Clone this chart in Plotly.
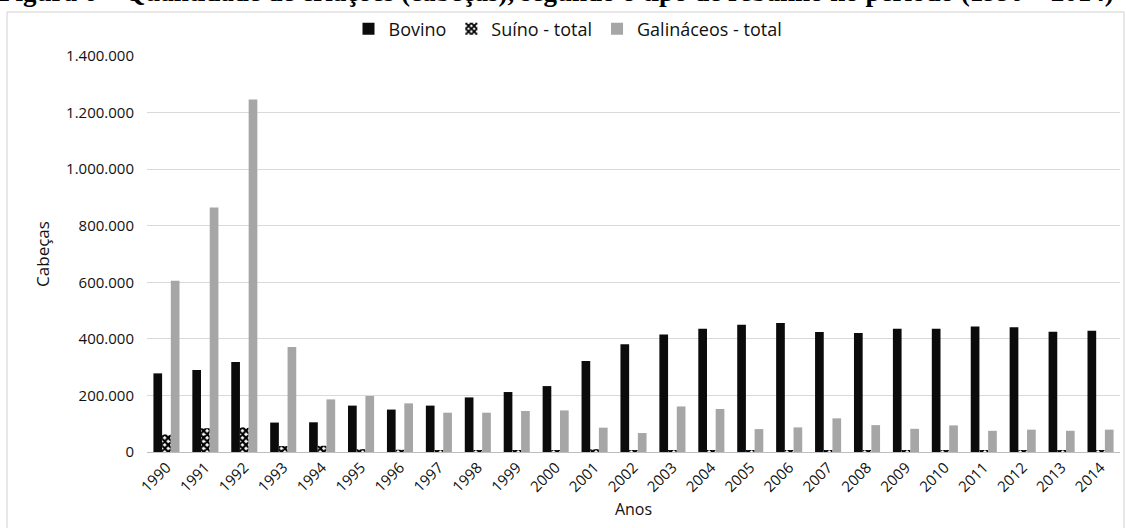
import plotly.graph_objects as go

anos = [str(a) for a in range(1990, 2015)]

bovino = [278000, 290000, 318000, 104000, 105000, 164000, 150000, 164000, 193000, 212000,
          233000, 322000, 381000, 415000, 436000, 450000, 456000, 424000, 421000, 436000,
          436000, 444000, 441000, 425000, 429000]

suino = [62000, 84000, 87000, 21000, 22000, 10000, 8000, 6000, 6000, 7000,
         7000, 10000, 4000, 4000, 5000, 4000, 4000, 4000, 4000, 4000,
         4000, 5000, 5000, 5000, 6000]

galinaceos = [605000, 864000, 1246000, 371000, 186000, 198000, 172000, 139000, 139000, 145000,
              147000, 86000, 67000, 161000, 152000, 81000, 87000, 119000, 95000, 82000,
              94000, 75000, 79000, 75000, 79000]

y_ticks = [0, 200000, 400000, 600000, 800000, 1000000, 1200000, 1400000]

FONT = "Open Sans"

fig = go.Figure()
fig.add_trace(go.Bar(x=anos, y=bovino, name="Bovino",
                     marker=dict(color="#0b0b0b", line=dict(width=0))))
fig.add_trace(go.Bar(x=anos, y=suino, name="Suíno - total",
                     marker=dict(color="#ffffff", line=dict(width=0),
                                 pattern=dict(shape="x", fgcolor="#000000", bgcolor="#ffffff",
                                              size=5, solidity=0.7, fgopacity=1))))
fig.add_trace(go.Bar(x=anos, y=galinaceos, name="Galináceos - total",
                     marker=dict(color="#a6a6a6", line=dict(width=0))))

W, H = 1126, 528
ml, mr, mt, mb = 147, 6, 56, 76
pw, ph = W - ml - mr, H - mt - mb


def px_x(p):
    return (p - ml) / pw


def px_y(p):
    return (H - mb - p) / ph


# figure caption, running off the top edge of the page
fig.add_annotation(
    text="<b>Figura 6 – Quantidade de criações (cabeças), segundo o tipo de rebanho no período (1990 – 2014)</b>",
    xref="paper", yref="paper", x=px_x(556), y=px_y(-8), xanchor="center", yanchor="middle",
    showarrow=False, font=dict(family="Liberation Serif", size=27, color="#000000"))

# chart frame
fig.add_shape(type="rect", xref="paper", yref="paper",
              x0=px_x(7), x1=px_x(1124), y0=px_y(540), y1=px_y(12),
              line=dict(color="#d0d0d0", width=1), fillcolor="rgba(0,0,0,0)", layer="below")

fig.update_layout(
    width=W, height=H,
    margin=dict(l=ml, r=mr, t=mt, b=mb),
    paper_bgcolor="#ffffff", plot_bgcolor="#ffffff",
    separators=",.",
    barmode="group", bargap=0.33, bargroupgap=0,
    font=dict(family=FONT, size=15, color="#1a1a1a"),
    legend=dict(orientation="h", x=px_x(568), y=px_y(29), xanchor="center", yanchor="middle",
                font=dict(family=FONT, size=18, color="#111111"),
                itemwidth=30, traceorder="normal", bgcolor="rgba(0,0,0,0)"),
    showlegend=True,
)

fig.update_xaxes(
    tickangle=-45, tickfont=dict(family=FONT, size=15, color="#111111"),
    showline=True, linecolor="#bdbdbd", linewidth=1, ticks="",
    title=dict(text="Anos", font=dict(family=FONT, size=16, color="#111111"), standoff=8),
)
fig.update_yaxes(
    range=[0, 1400000], tickvals=y_ticks, tickformat=",d",
    showgrid=True, gridcolor="#d9d9d9", gridwidth=1, zeroline=False,
    tickfont=dict(family=FONT, size=15, color="#111111"), ticklabelstandoff=12,
    title=dict(text="Cabeças", font=dict(family=FONT, size=17, color="#111111"), standoff=12),
)

fig.write_html("out.html")
